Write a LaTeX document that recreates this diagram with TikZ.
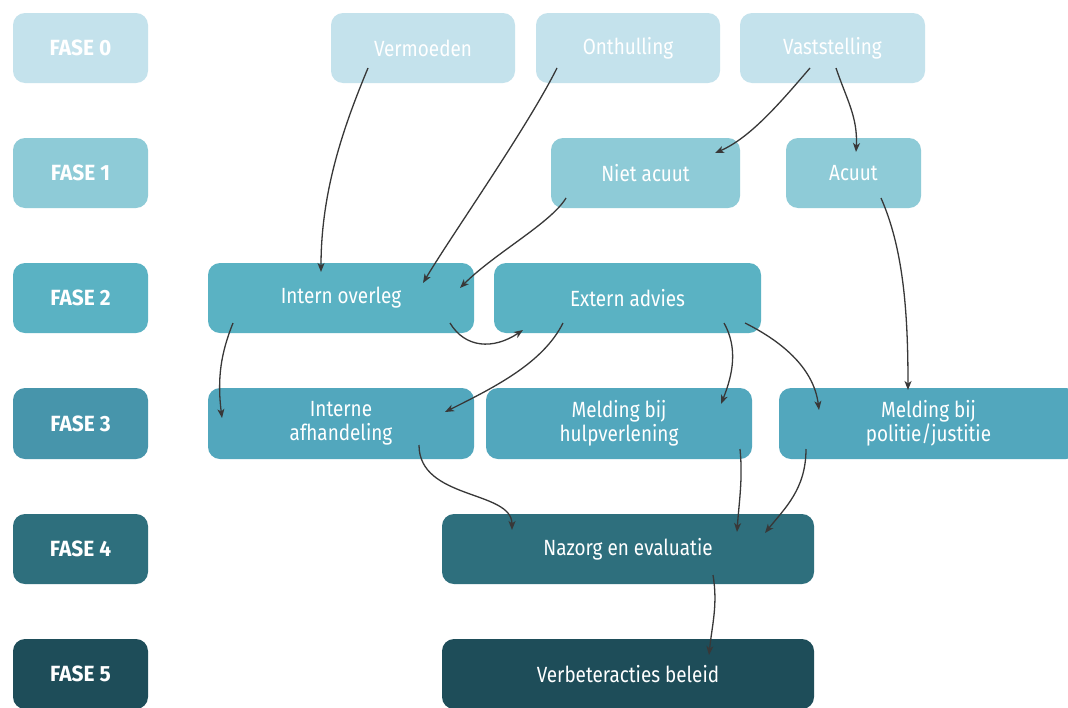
\documentclass[tikz,border=0pt]{standalone}
\usepackage{fontspec}
\setmainfont{Fira Sans}[FakeStretch=0.86]
\newfontfamily\lblfont{Fira Sans}[FakeStretch=0.95]
\usetikzlibrary{arrows.meta}
\definecolor{cA}{HTML}{C4E2EC}
\definecolor{cB}{HTML}{8ECBD7}
\definecolor{cC}{HTML}{5AB2C3}
\definecolor{cD}{HTML}{52A7BD}
\definecolor{cDl}{HTML}{4795AB}
\definecolor{cE}{HTML}{2E6F7D}
\definecolor{cF}{HTML}{1E4D59}
\definecolor{arrc}{HTML}{383838}
\tikzset{
  box/.style={rounded corners=12pt, minimum height=70pt, inner sep=0pt, align=center,
    text=white, font=\fontsize{22}{24}\selectfont},
  lbl/.style={box, minimum width=135pt, font=\lblfont\fontsize{22}{24}\selectfont\bfseries},
  arr/.style={draw=arrc, line width=1.3pt, -{Stealth[length=9pt,width=7pt,inset=2.5pt]}}
}
\begin{document}
\begin{tikzpicture}[x=1pt,y=-1pt]
\clip (0,0) rectangle (1068,707);
\fill[white] (0,0) rectangle (1068,707);
% phase labels
\node[lbl, fill=cA] (f0) at (80.5,48) {FASE 0};
\node[lbl, fill=cB] (f1) at (80.5,173) {FASE 1};
\node[lbl, fill=cC] (f2) at (80.5,298) {FASE 2};
\node[lbl, fill=cDl, minimum height=71pt] (f3) at (80.5,423.5) {FASE 3};
\node[lbl, fill=cE] (f4) at (80.5,549) {FASE 4};
\node[lbl, fill=cF] (f5) at (80.5,674) {FASE 5};
% row 0
\node[box, fill=cA, minimum width=184pt] (verm) at (423,48) {Vermoeden};
\node[box, fill=cA, minimum width=184pt] (onth) at (628,48) {Onthulling};
\node[box, fill=cA, minimum width=185pt] (vast) at (832.5,48) {Vaststelling};
% row 1
\node[box, fill=cB, minimum width=189pt] (niet) at (645.5,173) {Niet acuut};
\node[box, fill=cB, minimum width=135pt] (acuut) at (853.5,173) {Acuut};
% row 2
\node[box, fill=cC, minimum width=266pt] (io) at (341,298) {Intern overleg};
\node[box, fill=cC, minimum width=267pt] (ea) at (627.5,298) {Extern advies};
% row 3
\node[box, fill=cD, minimum width=266pt, minimum height=71pt] (ia) at (341,423.5) {Interne\\afhandeling};
\node[box, fill=cD, minimum width=266pt, minimum height=71pt] (mh) at (619,423.5) {Melding bij\\hulpverlening};
\node[box, fill=cD, minimum width=299pt, minimum height=71pt] (mp) at (928.5,423.5) {Melding bij\\politie/justitie};
% row 4, 5
\node[box, fill=cE, minimum width=372pt] (nz) at (628,549) {Nazorg en evaluatie};
\node[box, fill=cF, minimum width=372pt] (vb) at (628,674) {Verbeteracties beleid};
% connectors
\draw[arr] ([shift={(-55,20)}]verm.center) .. controls +(-25,60) and +(0,-80) .. ([shift={(-20,-26)}]io.center);
\draw[arr] ([shift={(-71,20)}]onth.center) .. controls +(-30,60) and +(30,-50) .. ([shift={(82,-15)}]io.center);
\draw[arr] ([shift={(-22.5,20)}]vast.center) .. controls +(-30,35) and +(35,-15) .. ([shift={(69.5,-20)}]niet.center);
\draw[arr] ([shift={(3.5,20)}]vast.center) .. controls +(10,30) and +(2,-35) .. ([shift={(2.5,-21)}]acuut.center);
\draw[arr] ([shift={(-79.5,25)}]niet.center) .. controls +(-15,25) and +(35,-35) .. ([shift={(119,-10)}]io.center);
\draw[arr] ([shift={(27.5,25)}]acuut.center) .. controls +(22,50) and +(0,-80) .. ([shift={(-20.5,-33.5)}]mp.center);
\draw[arr] ([shift={(-108,25)}]io.center) .. controls +(-12,30) and +(-5,-40) .. ([shift={(-119,-5.5)}]ia.center);
\draw[arr] ([shift={(109,25)}]io.center) .. controls +(15,25) and +(-30,20) .. ([shift={(-104.5,32)}]ea.center);
\draw[arr] ([shift={(-64.5,25)}]ea.center) .. controls +(-20,40) and +(50,-25) .. ([shift={(104,-11.5)}]ia.center);
\draw[arr] ([shift={(96.5,25)}]ea.center) .. controls +(14,25) and +(12,-30) .. ([shift={(102,-19.5)}]mh.center);
\draw[arr] ([shift={(117.5,25)}]ea.center) .. controls +(40,20) and +(-5,-40) .. ([shift={(-109.5,-13.5)}]mp.center);
\draw[arr] ([shift={(78,21.5)}]ia.center) .. controls +(0,55) and +(0,-40) .. ([shift={(-116,-19)}]nz.center);
\draw[arr] ([shift={(121,25.5)}]mh.center) .. controls +(3,30) and +(2,-30) .. ([shift={(109,-17)}]nz.center);
\draw[arr] ([shift={(-122.5,25.5)}]mp.center) .. controls +(0,40) and +(20,-25) .. ([shift={(137,-16)}]nz.center);
\draw[arr] ([shift={(85,26)}]nz.center) .. controls +(5,30) and +(3,-30) .. ([shift={(81,-19)}]vb.center);
\end{tikzpicture}
\end{document}
